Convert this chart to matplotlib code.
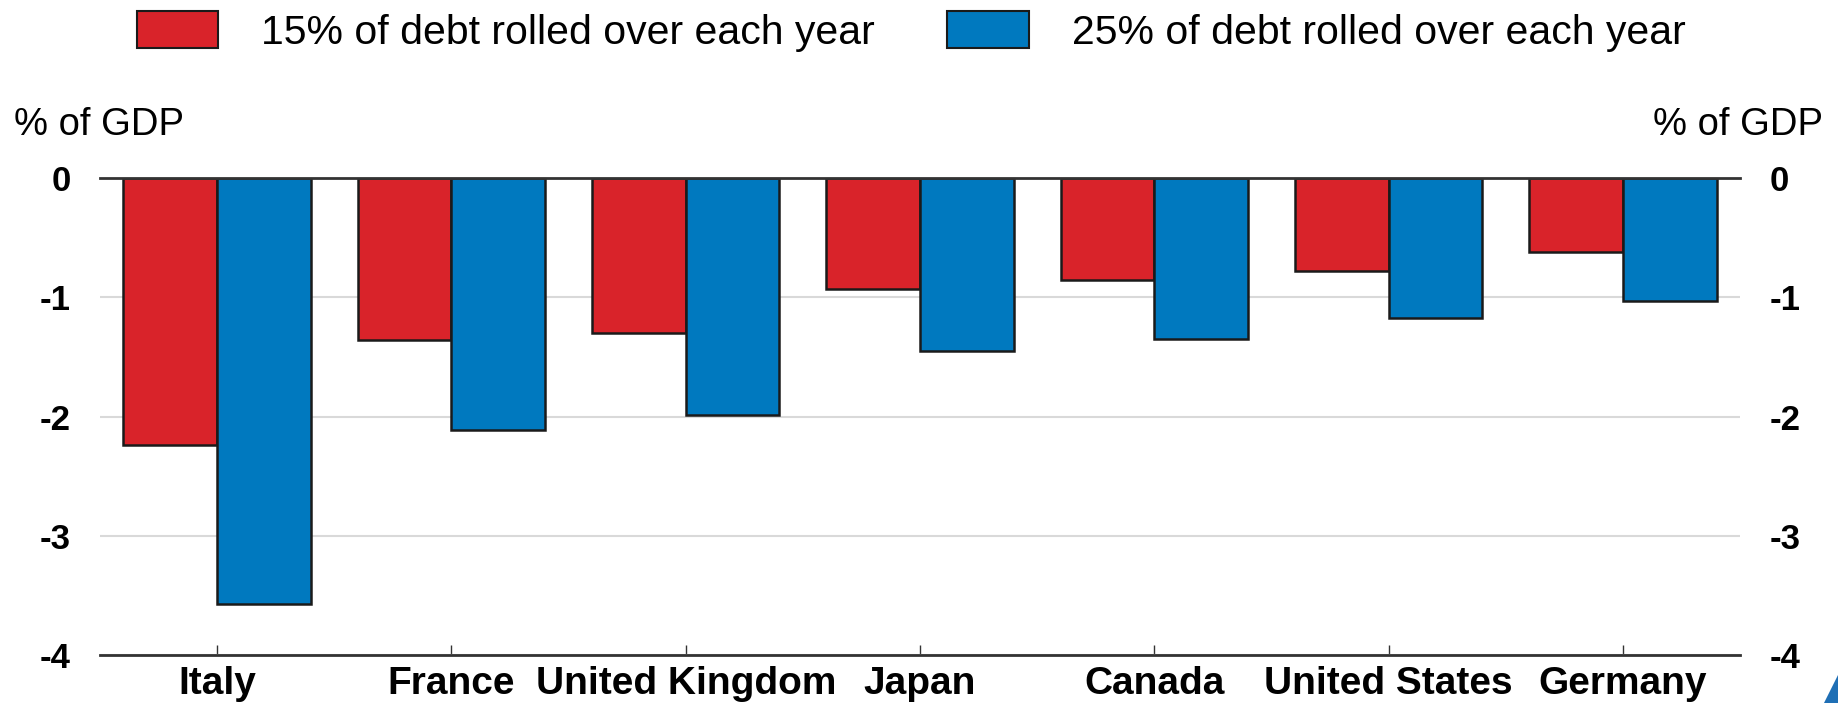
import matplotlib
matplotlib.use('Agg')
import matplotlib.pyplot as plt
import matplotlib.patches as mpatches
import numpy as np

plt.rcParams['font.family'] = ['Liberation Sans', 'DejaVu Sans']

########################## data ##########################
countries = ['Italy', 'France', 'United Kingdom', 'Japan', 'Canada', 'United States', 'Germany']
rolled_15 = [-2.24, -1.36, -1.30, -0.93, -0.85, -0.78, -0.62]
rolled_25 = [-3.57, -2.11, -1.99, -1.45, -1.35, -1.17, -1.03]
label_15 = '15% of debt rolled over each year'
label_25 = '25% of debt rolled over each year'
yticks = [0, -1, -2, -3, -4]

red = '#D9232A'
blue = '#0079BF'

fig = plt.figure(figsize=(18.38, 7.03), dpi=100)
ax = fig.add_axes([0.0544, 0.0683, 0.8923, 0.6781])

x = np.arange(len(countries))
w = 0.4
ax.bar(x - w / 2, rolled_15, w, color=red, edgecolor='#1a1a1a', linewidth=1.8, zorder=3)
ax.bar(x + w / 2, rolled_25, w, color=blue, edgecolor='#1a1a1a', linewidth=1.8, zorder=3)

ax.set_xlim(-0.5, len(countries) - 0.5)
ax.set_ylim(-4, 0)
ax.set_yticks(yticks)
ax.set_yticklabels([str(t) for t in yticks], fontsize=25, fontweight='bold',
                   family=['Liberation Sans Narrow', 'Liberation Sans'])
ax.yaxis.grid(True, color='#d9d9d9', linewidth=1.5, zorder=0)
ax.tick_params(axis='y', length=0, pad=21, labelright=True)

ax.set_xticks(x)
ax.set_xticklabels(countries, fontsize=28, fontweight='bold')
ax.tick_params(axis='x', direction='in', length=7, width=1, color='#333333', pad=8)

for side in ['left', 'right']:
    ax.spines[side].set_visible(False)
for side in ['top', 'bottom']:
    ax.spines[side].set_color('#333333')
    ax.spines[side].set_linewidth(2)
    ax.spines[side].set_zorder(4)

fig.text(0.0076, 0.822, '% of GDP', fontsize=27.5, va='center', ha='left')
fig.text(0.9918, 0.822, '% of GDP', fontsize=27.5, va='center', ha='right')

handles = [mpatches.Patch(facecolor=red, edgecolor='#1a1a1a', linewidth=1.5, label=label_15),
           mpatches.Patch(facecolor=blue, edgecolor='#1a1a1a', linewidth=1.5, label=label_25)]
fig.legend(handles=handles, loc='center', bbox_to_anchor=(0.4957, 0.955), ncol=2,
           frameon=False, fontsize=29.5, handlelength=2.0, handleheight=1.0,
           handletextpad=1.05, columnspacing=1.75, borderaxespad=0, borderpad=0)

# corner decoration bottom right
fig.patches.append(mpatches.Polygon([[0.9925, 0.0], [1.0, 0.0], [1.0, 0.04]],
                                    closed=True, transform=fig.transFigure,
                                    facecolor='#1f6fb5', edgecolor='none'))

plt.savefig('out.png', dpi=100)
